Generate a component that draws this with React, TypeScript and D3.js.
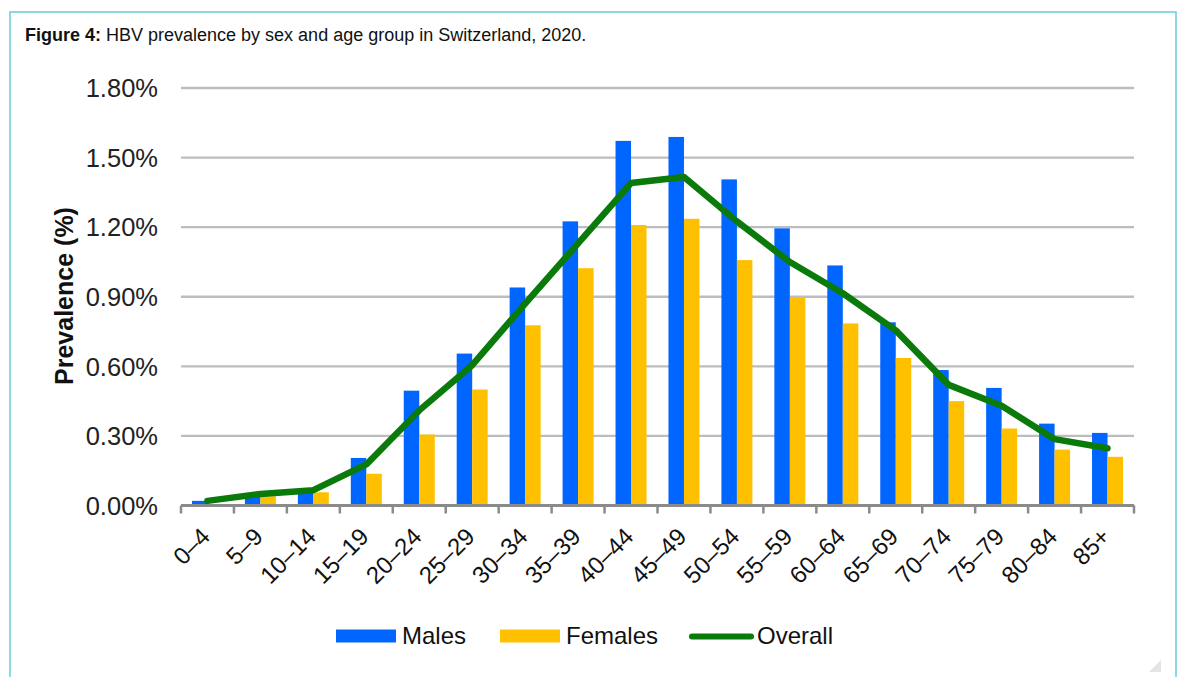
import * as d3 from 'd3';

const FONT = '"Liberation Sans", Arial, Helvetica, sans-serif';

const ageGroups = [
  '0–4', '5–9', '10–14', '15–19', '20–24', '25–29', '30–34', '35–39', '40–44',
  '45–49', '50–54', '55–59', '60–64', '65–69', '70–74', '75–79', '80–84', '85+',
];
// prevalence, %
const males = [
  0.02, 0.04, 0.055, 0.205, 0.495, 0.655, 0.94, 1.225, 1.572,
  1.589, 1.406, 1.195, 1.035, 0.79, 0.584, 0.507, 0.353, 0.313,
];
const females = [
  0.005, 0.04, 0.057, 0.137, 0.306, 0.5, 0.777, 1.023, 1.209,
  1.236, 1.058, 0.896, 0.785, 0.636, 0.45, 0.332, 0.241, 0.21,
];
const overall = [
  0.02, 0.05, 0.066, 0.177, 0.41, 0.605, 0.87, 1.13, 1.39,
  1.416, 1.225, 1.05, 0.915, 0.755, 0.52, 0.43, 0.286, 0.247,
];
const yTicks = [0, 0.3, 0.6, 0.9, 1.2, 1.5, 1.8];
const seriesNames = ['Males', 'Females'];

const COLORS = { Males: '#0066ff', Females: '#ffc000', Overall: '#0a7a0a' };
const GRID = '#bdbdbd';
const AXIS = '#8a8a8a';

export default function App() {
  const width = 1178;
  const height = 677;
  const left = 181;
  const right = 1134;
  const top = 88;
  const bottom = 505.5;

  const x = d3.scaleBand<string>().domain(ageGroups).range([left, right]).padding(0);
  const xSub = d3
    .scaleBand<string>()
    .domain(seriesNames)
    .range([0, x.bandwidth()])
    .paddingInner(0)
    .paddingOuter(0.708);
  const y = d3.scaleLinear().domain([0, 1.8]).range([bottom, top]);

  const line = d3
    .line<number>()
    .x((_, i) => (x(ageGroups[i]) ?? 0) + x.bandwidth() / 2)
    .y((d) => y(d));

  const boundaries = ageGroups.map((g) => x(g) ?? 0).concat([right]);

  const legend = [
    { name: 'Males', kind: 'rect', x: 336, tx: 402 },
    { name: 'Females', kind: 'rect', x: 500, tx: 566 },
    { name: 'Overall', kind: 'line', x: 689, tx: 757 },
  ];

  return (
    <svg
      width={width}
      height={height}
      viewBox={`0 0 ${width} ${height}`}
      style={{ position: 'absolute', left: 0, top: 0, background: '#fff' }}
      fontFamily={FONT}
    >
      <rect x={10} y={12} width={1166} height={700} fill="#fff" stroke="#6fd0dd" strokeWidth={1.6} />

      <text x={25} y={40.5} fontSize={18} fill="#111">
        <tspan fontWeight={700}>Figure 4:</tspan>
        <tspan> HBV prevalence by sex and age group in Switzerland, 2020.</tspan>
      </text>

      {/* grid + y labels */}
      {yTicks.map((t) => (
        <g key={t}>
          {t > 0 && (
            <line x1={left} x2={right} y1={y(t)} y2={y(t)} stroke={GRID} strokeWidth={2.4} />
          )}
          <text x={158} y={y(t)} dy="0.36em" textAnchor="end" fontSize={25.5} fill="#222">
            {d3.format('.2f')(t) + '%'}
          </text>
        </g>
      ))}

      <text
        transform={`translate(73,296) rotate(-90)`}
        textAnchor="middle"
        fontSize={25}
        fontWeight={700}
        fill="#111"
      >
        Prevalence (%)
      </text>

      {/* bars */}
      {ageGroups.map((g, i) => (
        <g key={g} transform={`translate(${x(g)},0)`}>
          {[males[i], females[i]].map((v, j) => (
            <rect
              key={seriesNames[j]}
              x={xSub(seriesNames[j])}
              y={y(v)}
              width={xSub.bandwidth()}
              height={bottom - y(v)}
              fill={COLORS[seriesNames[j] as 'Males' | 'Females']}
            />
          ))}
        </g>
      ))}

      {/* axis */}
      <line x1={left} x2={right} y1={bottom} y2={bottom} stroke={AXIS} strokeWidth={3} />
      {boundaries.map((b, i) => (
        <line key={i} x1={b} x2={b} y1={bottom} y2={bottom + 8} stroke={AXIS} strokeWidth={2.5} />
      ))}

      <path
        d={line(overall) ?? undefined}
        fill="none"
        stroke={COLORS.Overall}
        strokeWidth={6.5}
        strokeLinejoin="round"
        strokeLinecap="round"
      />

      {ageGroups.map((g) => {
        const cx = (x(g) ?? 0) + x.bandwidth() / 2;
        return (
          <text
            key={g}
            transform={`translate(${cx + 4},538) rotate(-45)`}
            textAnchor="end"
            fontSize={24}
            fill="#111"
          >
            {g}
          </text>
        );
      })}

      {/* legend */}
      {legend.map((l) => (
        <g key={l.name}>
          {l.kind === 'rect' ? (
            <rect x={l.x} y={629.5} width={60} height={13} fill={COLORS[l.name as keyof typeof COLORS]} />
          ) : (
            <line
              x1={l.x + 3}
              x2={l.x + 62}
              y1={636.5}
              y2={636.5}
              stroke={COLORS.Overall}
              strokeWidth={6}
              strokeLinecap="round"
            />
          )}
          <text x={l.tx} y={644} fontSize={24} fill="#111">
            {l.name}
          </text>
        </g>
      ))}

      <path d="M1161,660 L1161,672 L1149,672 Z" fill="#e4e4e4" />
    </svg>
  );
}
